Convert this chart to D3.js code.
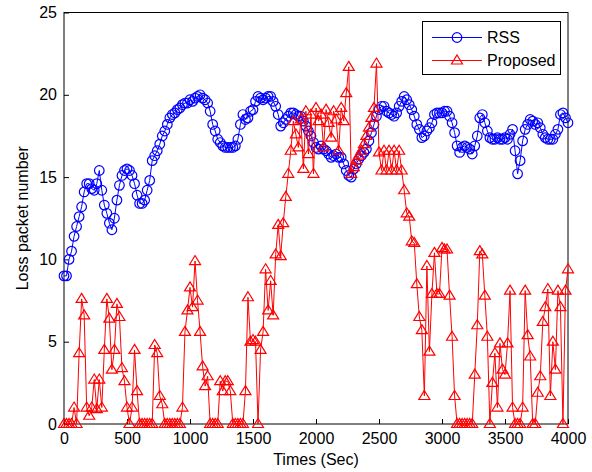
<!DOCTYPE html>
<html lang="en">
  <head>
    <meta charset="UTF-8" />
    <title>Loss packet number</title>
    <script src="https://d3js.org/d3.v7.min.js"></script>
    <style>
      body { margin: 0; background: white; }
      svg { display: block; font-family: "Liberation Sans", Arial, sans-serif; }
    </style>
  </head>
  <body>
    <div class="visHolder"></div>

    <script>
      // ----------- Data ----------- //

      // one sample every 20 sec, 0 .. 4000
      var times = d3.range(0, 4001, 20);

      var rssValues = [
        9.0, 9.0, 10.0, 10.5, 11.4, 12.0, 12.6, 13.2, 14.1, 14.6,
        14.6, 14.3, 14.2, 14.6, 15.4, 14.2, 13.3, 12.8, 12.2, 11.8,
        12.5, 13.6, 14.5, 15.1, 15.4, 15.5, 15.4, 15.1, 14.6, 13.9,
        13.4, 13.4, 13.6, 14.2, 14.8, 16.0, 16.3, 16.6, 17.0, 17.5,
        17.8, 18.2, 18.6, 18.8, 18.9, 19.1, 19.2, 19.4, 19.5, 19.5,
        19.7, 19.6, 19.8, 19.9, 20.0, 19.8, 19.7, 19.5, 19.0, 18.2,
        17.8, 17.3, 17.1, 16.9, 16.8, 16.8, 16.8, 16.8, 16.9, 17.3,
        18.2, 18.8, 18.5, 18.6, 19.0, 19.1, 19.6, 19.9, 19.8, 19.7,
        19.8, 19.9, 19.9, 19.6, 19.3, 18.8, 18.1, 18.3, 18.5, 18.7,
        18.9, 18.9, 18.8, 18.7, 18.7, 18.4, 18.1, 17.8, 17.5, 17.1,
        16.8, 16.7, 16.9, 16.7, 16.6, 16.4, 16.2, 16.3, 16.4, 16.2,
        16.2, 15.8, 15.4, 15.1, 15.0, 15.5, 15.8, 16.1, 16.3, 16.5,
        16.7, 17.2, 17.7, 18.2, 18.7, 19.1, 19.3, 19.3, 19.0, 18.9,
        18.8, 18.7, 18.9, 19.3, 19.6, 19.9, 19.7, 19.4, 19.1, 18.7,
        18.2, 17.9, 17.4, 17.5, 17.8, 18.0, 18.3, 18.8, 18.9, 18.9,
        18.9, 19.0, 19.0, 18.7, 18.3, 17.7, 16.9, 16.5, 16.8, 16.9,
        16.8, 16.7, 16.4, 16.9, 17.5, 18.6, 18.8, 18.3, 17.8, 17.4,
        17.3, 17.3, 17.4, 17.3, 17.3, 17.4, 17.3, 17.6, 17.9, 16.6,
        15.2, 16.0, 17.2, 17.9, 18.2, 18.5, 18.4, 18.2, 18.3, 18.0,
        17.6, 17.4, 17.3, 17.3, 17.3, 17.6, 17.9, 18.8, 18.9, 18.6,
        18.3
      ];

      var proposedValues = [
        0, 0, 0, 0, 1.0, 0, 4.3, 7.6, 6.6, 1.0,
        0.5, 1.0, 2.7, 0.9, 2.7, 1.0, 4.5, 7.6, 6.4, 3.3,
        4.5, 7.3, 6.5, 3.4, 2.6, 1.0, 0, 1.0, 4.5, 2.0,
        0, 0, 0, 0, 0, 0, 4.8, 4.3, 1.7, 1.2,
        0, 0, 0, 0, 0, 0, 0, 1.0, 5.6, 6.9,
        8.3, 7.1, 9.9, 7.5, 5.6, 3.5, 2.3, 2.9, 0, 0,
        0, 0, 2.6, 2.0, 2.6, 2.6, 2.0, 0, 0, 0,
        0, 0, 2.0, 7.7, 5.0, 5.1, 5.0, 0, 4.5, 5.6,
        9.4, 6.9, 8.7, 6.6, 10.3, 12.1, 10.2, 12.2, 13.8, 15.2,
        16.6, 18.4, 17.6, 16.8, 18.5, 15.5, 19.0, 16.4, 18.8, 15.2,
        19.2, 18.4, 18.8, 16.8, 19.1, 18.3, 17.4, 19.0, 18.5, 16.6,
        19.2, 18.4, 20.1, 21.7, 15.2, 15.6, 16.0, 16.3, 16.6, 17.0,
        17.5, 18.0, 18.6, 19.2, 21.9, 16.5, 15.4, 16.6, 15.4, 16.6,
        15.4, 16.6, 15.4, 16.6, 15.4, 14.2, 12.8, 12.6, 11.1, 11.0,
        8.5, 6.5, 5.7, 1.7, 9.6, 4.4, 7.9, 10.4, 7.9, 7.9,
        10.7, 10.6, 10.6, 7.8, 5.3, 1.7, 0, 0, 0, 0,
        0, 0, 0, 3.0, 6.0, 10.5, 10.3, 7.8, 5.3, 0,
        2.5, 4.3, 1.0, 4.9, 3.3, 3.0, 4.9, 8.1, 1.0, 0,
        0, 0, 1.0, 8.1, 5.4, 4.1, 0, 0, 1.9, 2.9,
        6.2, 7.1, 8.2, 1.7, 5.0, 3.3, 8.1, 7.1, 0, 8.1,
        9.4
      ];

      var xTicks = [0, 500, 1000, 1500, 2000, 2500, 3000, 3500, 4000];
      var yTicks = [0, 5, 10, 15, 20, 25];
      var seriesNames = ['RSS', 'Proposed'];

      // ----------- Basic Variables ----------- //

      var width = 592;
      var height = 472;
      var plotLeft = 64, plotRight = 568, plotTop = 12.5, plotBottom = 424;

      var triPath = 'M0,-5.5L5.5,3.5L-5.5,3.5Z';

      var svg = d3.select('.visHolder')
        .append('svg')
        .attr('width', width)
        .attr('height', height)
        .style('background', 'white');

      var xScale = d3.scaleLinear().domain([0, 4000]).range([plotLeft, plotRight]);
      var yScale = d3.scaleLinear().domain([0, 25]).range([plotBottom, plotTop]);

      // -----------  Axes  ----------- //

      var xAxis = d3.axisBottom(xScale)
        .tickValues(xTicks)
        .tickFormat(d3.format('d'))
        .tickSizeInner(-5)
        .tickSizeOuter(0)
        .tickPadding(9);

      var yAxis = d3.axisLeft(yScale)
        .tickValues(yTicks)
        .tickSizeInner(-5)
        .tickSizeOuter(0)
        .tickPadding(7);

      var gx = svg.append('g')
        .attr('transform', 'translate(0,' + plotBottom + ')')
        .call(xAxis);

      var gy = svg.append('g')
        .attr('transform', 'translate(' + plotLeft + ',0)')
        .call(yAxis);

      [gx, gy].forEach(function(g) {
        g.select('.domain').remove();
        g.selectAll('line').attr('stroke', '#000');
        g.selectAll('text')
          .attr('fill', '#000')
          .style('font-size', '16px')
          .style('font-family', '"Liberation Sans", Arial, sans-serif');
      });

      svg.append('rect')
        .attr('x', plotLeft)
        .attr('y', plotTop)
        .attr('width', plotRight - plotLeft)
        .attr('height', plotBottom - plotTop)
        .attr('fill', 'none')
        .attr('stroke', '#000')
        .attr('stroke-width', 1);

      svg.append('text')
        .attr('x', (plotLeft + plotRight) / 2)
        .attr('y', 465)
        .attr('text-anchor', 'middle')
        .style('font-size', '16px')
        .text('Times (Sec)');

      svg.append('text')
        .attr('transform', 'translate(28,' + (plotTop + plotBottom) / 2 + ') rotate(-90)')
        .attr('text-anchor', 'middle')
        .style('font-size', '16px')
        .text('Loss packet number');

      // -----------  Series  ----------- //

      var line = d3.line()
        .x(function(d) { return xScale(d[0]); })
        .y(function(d) { return yScale(d[1]); });

      var rssData = times.map(function(t, i) { return [t, rssValues[i]]; });
      var propData = times.map(function(t, i) { return [t, proposedValues[i]]; });

      svg.append('path')
        .datum(rssData)
        .attr('d', line)
        .attr('fill', 'none')
        .attr('stroke', '#0000ff')
        .attr('stroke-width', 1);

      svg.selectAll('.rss')
        .data(rssData)
        .enter()
        .append('circle')
          .attr('class', 'rss')
          .attr('cx', function(d) { return xScale(d[0]); })
          .attr('cy', function(d) { return yScale(d[1]); })
          .attr('r', 4.8)
          .attr('fill', 'none')
          .attr('stroke', '#0000ff')
          .attr('stroke-width', 1.2);

      svg.append('path')
        .datum(propData)
        .attr('d', line)
        .attr('fill', 'none')
        .attr('stroke', '#ff0000')
        .attr('stroke-width', 1);

      svg.selectAll('.prop')
        .data(propData)
        .enter()
        .append('path')
          .attr('class', 'prop')
          .attr('d', triPath)
          .attr('transform', function(d) {
            return 'translate(' + xScale(d[0]) + ',' + yScale(d[1]) + ')';
          })
          .attr('fill', 'none')
          .attr('stroke', '#ff0000')
          .attr('stroke-width', 1.2);

      // -----------  Legend  ----------- //

      var legend = svg.append('g');

      legend.append('rect')
        .attr('x', 422.5)
        .attr('y', 21.5)
        .attr('width', 138)
        .attr('height', 53)
        .attr('fill', 'white')
        .attr('stroke', '#000');

      var legendColors = ['#0000ff', '#ff0000'];

      seriesNames.forEach(function(name, i) {
        var ly = 37.5 + i * 23;
        legend.append('line')
          .attr('x1', 432).attr('x2', 482)
          .attr('y1', ly).attr('y2', ly)
          .attr('stroke', legendColors[i]);
        if (i === 0) {
          legend.append('circle')
            .attr('cx', 457).attr('cy', ly).attr('r', 4.8)
            .attr('fill', 'none').attr('stroke', legendColors[i])
            .attr('stroke-width', 1.2);
        } else {
          legend.append('path')
            .attr('d', triPath)
            .attr('transform', 'translate(457,' + ly + ')')
            .attr('fill', 'none').attr('stroke', legendColors[i])
            .attr('stroke-width', 1.2);
        }
        legend.append('text')
          .attr('x', 487)
          .attr('y', ly)
          .attr('dy', '0.35em')
          .style('font-size', '16px')
          .text(name);
      });
    </script>
  </body>
</html>
